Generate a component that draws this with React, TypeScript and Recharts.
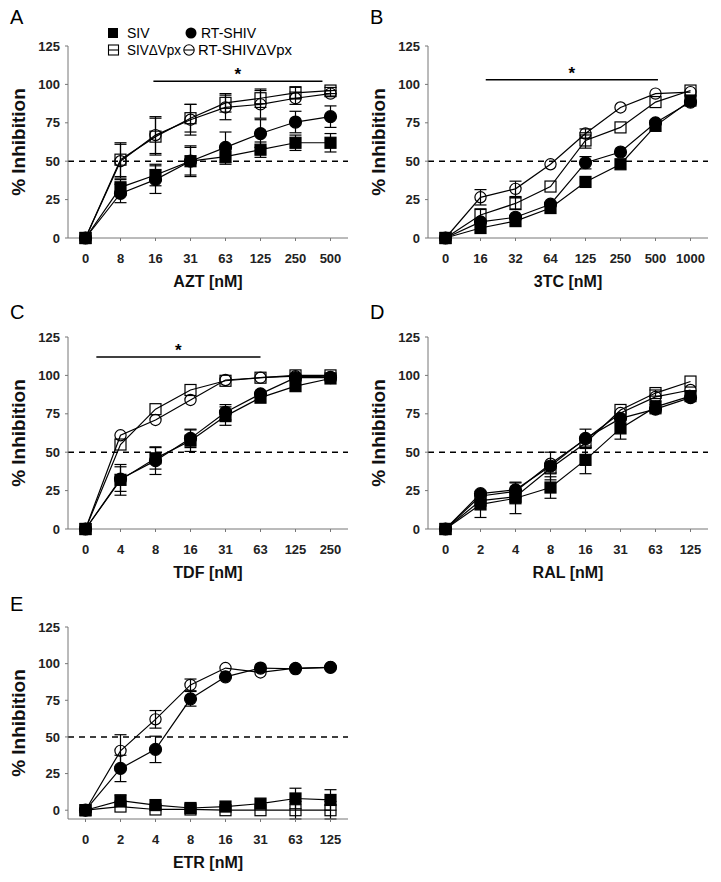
import React from "react";
import { ComposedChart, Line, XAxis, YAxis, ErrorBar, ReferenceLine } from "recharts";

const FONT = '"Liberation Sans", Arial, Helvetica, sans-serif';

// AZT
const aztDoses = ["0", "8", "16", "31", "63", "125", "250", "500"];
const aztSiv = [0, 33, 41, 50, 53, 57.5, 62, 62];
const aztSivErr = [0, 5, 7, 10, 5, 5, 5, 6];
const aztRt = [0, 29, 38, 50, 59, 68, 75.5, 79];
const aztRtErr = [0, 6, 9, 9, 10, 9, 7, 7];
const aztSivV = [0, 51, 66, 78, 88, 91, 94.5, 96];
const aztSivVErr = [0, 11, 12, 9, 6, 6, 4, 2];
const aztRtV = [0, 50, 67, 77, 85, 87, 91, 94];
const aztRtVErr = [0, 11, 12, 10, 8, 9, 4, 2];

// 3TC
const tcDoses = ["0", "16", "32", "64", "125", "250", "500", "1000"];
const tcSiv = [0, 6.5, 11, 19.5, 36.5, 48, 73, 89.5];
const tcSivErr = [0, 0, 0, 0, 0, 0, 0, 0];
const tcRt = [0, 10.5, 13.5, 22, 49, 56, 75, 88.5];
const tcRtErr = [0, 0, 0, 0, 4, 0, 0, 0];
const tcSivV = [0, 15, 22.5, 33.5, 63.5, 72, 88.5, 96];
const tcSivVErr = [0, 4, 4, 0, 5, 0, 0, 0];
const tcRtV = [0, 26.5, 32, 48, 68, 85, 94, 95];
const tcRtVErr = [0, 5, 5, 0, 3, 0, 0, 0];

// TDF
const tdfDoses = ["0", "4", "8", "16", "31", "63", "125", "250"];
const tdfSiv = [0, 32, 46, 57.5, 73.5, 85.5, 93, 98];
const tdfSivErr = [0, 10, 7, 7, 6, 0, 0, 0];
const tdfRt = [0, 32.5, 44.5, 59, 76, 88, 98.5, 98.5];
const tdfRtErr = [0, 8, 9, 6, 5, 0, 0, 0];
const tdfSivV = [0, 55, 78, 90.5, 96.5, 98.5, 100, 100];
const tdfSivVErr = [0, 0, 0, 0, 0, 0, 0, 0];
const tdfRtV = [0, 61, 71, 84, 97, 98.5, 99.5, 99];
const tdfRtVErr = [0, 0, 0, 0, 0, 0, 0, 0];

// RAL
const ralDoses = ["0", "2", "4", "8", "16", "31", "63", "125"];
const ralSiv = [0, 16, 20, 27, 45, 65.5, 79.5, 86.5];
const ralSivErr = [0, 8.5, 10, 7, 9, 7, 4, 0];
const ralRt = [0, 23, 25.5, 41, 59, 72, 78, 85.5];
const ralRtErr = [0, 0, 5, 9, 6, 0, 3, 0];
const ralSivV = [0, 18.5, 21, 39.5, 56, 77.5, 88.5, 96];
const ralSivVErr = [0, 0, 0, 3, 3, 0, 2, 0];
const ralRtV = [0, 21.5, 24.5, 42.5, 58.5, 75.5, 86, 90.5];
const ralRtVErr = [0, 0, 0, 0, 0, 0, 0, 0];

// ETR
const etrDoses = ["0", "2", "4", "8", "16", "31", "63", "125"];
const etrSiv = [0, 6.5, 3.5, 1.5, 2.5, 4.5, 8, 7];
const etrSivErr = [0, 4, 0, 0, 0, 0, 7, 7];
const etrRt = [0, 28.5, 41.5, 76, 91, 97, 96.5, 97.5];
const etrRtErr = [0, 9, 9, 5, 0, 0, 0, 0];
const etrSivV = [0, 2.5, 0.5, 0.5, 0, 0, 0, 0];
const etrSivVErr = [0, 0, 0, 0, 0, 0, 6, 6];
const etrRtV = [0, 40.5, 62, 85.5, 97, 94, 97, 97.5];
const etrRtVErr = [0, 11, 6, 4, 0, 0, 0, 0];

const yTicks = [0, 25, 50, 75, 100, 125];

type Sig = { from: number; to: number; y: number };

const square = (filled: boolean) => (p: any) => (
  <rect
    key={`sq-${p.index}`}
    x={p.cx - 5.5}
    y={p.cy - 5.5}
    width={11}
    height={11}
    fill={filled ? "#000" : "none"}
    stroke="#000"
    strokeWidth={1.2}
  />
);

const circle = (filled: boolean) => (p: any) => (
  <circle
    key={`ci-${p.index}`}
    cx={p.cx}
    cy={p.cy}
    r={filled ? 6 : 5.6}
    fill={filled ? "#000" : "none"}
    stroke="#000"
    strokeWidth={1.2}
  />
);

interface PanelProps {
  left: number;
  top: number;
  letter: string;
  letterY: number;
  xLabel: string;
  doses: string[];
  siv: number[];
  sivErr: number[];
  rt: number[];
  rtErr: number[];
  sivV: number[];
  sivVErr: number[];
  rtV: number[];
  rtVErr: number[];
  sig?: Sig;
  legend?: boolean;
}

function Legend() {
  return (
    <svg width={360} height={60} style={{ position: "absolute", left: 0, top: 0 }}>
      <g fontSize={14} fill="#000">
        <rect x={108} y={28} width={10} height={10} fill="#000" />
        <text x={127} y={38}>SIV</text>
        <circle cx={191} cy={33} r={5.5} fill="#000" />
        <text x={201} y={38}>RT-SHIV</text>
        <rect x={108.5} y={45} width={10} height={10} fill="none" stroke="#000" strokeWidth={1.1} />
        <line x1={108.5} y1={50} x2={118.5} y2={50} stroke="#000" strokeWidth={1.1} />
        <text x={127} y={55} textLength={54} lengthAdjust="spacingAndGlyphs">SIVΔVpx</text>
        <circle cx={189} cy={50} r={5.2} fill="none" stroke="#000" strokeWidth={1.1} />
        <line x1={184} y1={50} x2={194} y2={50} stroke="#000" strokeWidth={1.1} />
        <text x={198} y={55} textLength={94} lengthAdjust="spacingAndGlyphs">RT-SHIVΔVpx</text>
      </g>
    </svg>
  );
}

function Panel(props: PanelProps) {
  const { doses } = props;
  const data = doses.map((d, i) => ({
    i,
    siv: props.siv[i],
    sivErr: props.sivErr[i],
    rt: props.rt[i],
    rtErr: props.rtErr[i],
    sivV: props.sivV[i],
    sivVErr: props.sivVErr[i],
    rtV: props.rtV[i],
    rtVErr: props.rtVErr[i],
  }));

  return (
    <div style={{ position: "absolute", left: props.left, top: props.top, width: 360, height: 290 }}>
      <div style={{ position: "absolute", left: 10, top: props.letterY - 20, fontSize: 20, lineHeight: "20px" }}>
        {props.letter}
      </div>
      <ComposedChart width={360} height={290} data={data} margin={{ top: 46, right: 12, bottom: 0, left: 8 }}>
        <XAxis
          type="number"
          dataKey="i"
          domain={[-0.5, doses.length - 0.5]}
          ticks={doses.map((_, i) => i)}
          tickFormatter={(v) => doses[v]}
          interval={0}
          height={52}
          stroke="#777"
          tickSize={3}
          tickMargin={13}
          tick={{ fontSize: 13, fontWeight: "bold", fill: "#222" }}
          label={{
            value: props.xLabel,
            position: "insideBottom",
            offset: 3,
            fontSize: 16,
            fontWeight: "bold",
            fill: "#111",
          }}
        />
        <YAxis
          type="number"
          domain={[0, 125]}
          ticks={yTicks}
          width={60}
          stroke="#777"
          tickSize={3}
          tickMargin={5}
          tick={{ fontSize: 13, fontWeight: "bold", fill: "#222" }}
          label={{
            value: "% Inhibition",
            angle: -90,
            position: "insideLeft",
            offset: 10,
            fontSize: 19,
            fontWeight: "bold",
            fill: "#111",
            style: { textAnchor: "middle" },
          }}
        />
        <ReferenceLine y={50} stroke="#000" strokeWidth={1.5} strokeDasharray="6 5" />
        {props.sig && (
          <ReferenceLine
            segment={[
              { x: props.sig.from, y: props.sig.y },
              { x: props.sig.to, y: props.sig.y },
            ]}
            stroke="#000"
            strokeWidth={1.5}
            label={{ value: "*", position: "top", offset: 1, fontSize: 17, fontWeight: "bold", fill: "#000" }}
          />
        )}
        <Line dataKey="sivV" stroke="#000" strokeWidth={1.2} dot={square(false)} activeDot={false} isAnimationActive={false}>
          <ErrorBar dataKey="sivVErr" width={6} stroke="#000" strokeWidth={1.2} direction="y" />
        </Line>
        <Line dataKey="rtV" stroke="#000" strokeWidth={1.2} dot={circle(false)} activeDot={false} isAnimationActive={false}>
          <ErrorBar dataKey="rtVErr" width={6} stroke="#000" strokeWidth={1.2} direction="y" />
        </Line>
        <Line dataKey="rt" stroke="#000" strokeWidth={1.2} dot={circle(true)} activeDot={false} isAnimationActive={false}>
          <ErrorBar dataKey="rtErr" width={6} stroke="#000" strokeWidth={1.2} direction="y" />
        </Line>
        <Line dataKey="siv" stroke="#000" strokeWidth={1.2} dot={square(true)} activeDot={false} isAnimationActive={false}>
          <ErrorBar dataKey="sivErr" width={6} stroke="#000" strokeWidth={1.2} direction="y" />
        </Line>
      </ComposedChart>
      {props.legend && <Legend />}
    </div>
  );
}

export default function App() {
  return (
    <div
      style={{
        position: "absolute",
        left: 0,
        top: 0,
        width: 721,
        height: 882,
        background: "#fff",
        fontFamily: FONT,
        color: "#000",
      }}
    >
      <Panel
        left={0}
        top={0}
        letter="A"
        letterY={27}
        xLabel="AZT [nM]"
        doses={aztDoses}
        siv={aztSiv}
        sivErr={aztSivErr}
        rt={aztRt}
        rtErr={aztRtErr}
        sivV={aztSivV}
        sivVErr={aztSivVErr}
        rtV={aztRtV}
        rtVErr={aztRtVErr}
        sig={{ from: 1.94, to: 6.77, y: 102 }}
        legend
      />
      <Panel
        left={360}
        top={0}
        letter="B"
        letterY={27}
        xLabel="3TC [nM]"
        doses={tcDoses}
        siv={tcSiv}
        sivErr={tcSivErr}
        rt={tcRt}
        rtErr={tcRtErr}
        sivV={tcSivV}
        sivVErr={tcSivVErr}
        rtV={tcRtV}
        rtVErr={tcRtVErr}
        sig={{ from: 1.15, to: 6.07, y: 103 }}
      />
      <Panel
        left={0}
        top={291}
        letter="C"
        letterY={31}
        xLabel="TDF [nM]"
        doses={tdfDoses}
        siv={tdfSiv}
        sivErr={tdfSivErr}
        rt={tdfRt}
        rtErr={tdfRtErr}
        sivV={tdfSivV}
        sivVErr={tdfSivVErr}
        rtV={tdfRtV}
        rtVErr={tdfRtVErr}
        sig={{ from: 0.31, to: 5.0, y: 112 }}
      />
      <Panel
        left={360}
        top={291}
        letter="D"
        letterY={31}
        xLabel="RAL [nM]"
        doses={ralDoses}
        siv={ralSiv}
        sivErr={ralSivErr}
        rt={ralRt}
        rtErr={ralRtErr}
        sivV={ralSivV}
        sivVErr={ralSivVErr}
        rtV={ralRtV}
        rtVErr={ralRtVErr}
      />
      <Panel
        left={0}
        top={581}
        letter="E"
        letterY={33}
        xLabel="ETR [nM]"
        doses={etrDoses}
        siv={etrSiv}
        sivErr={etrSivErr}
        rt={etrRt}
        rtErr={etrRtErr}
        sivV={etrSivV}
        sivVErr={etrSivVErr}
        rtV={etrRtV}
        rtVErr={etrRtVErr}
      />
    </div>
  );
}
